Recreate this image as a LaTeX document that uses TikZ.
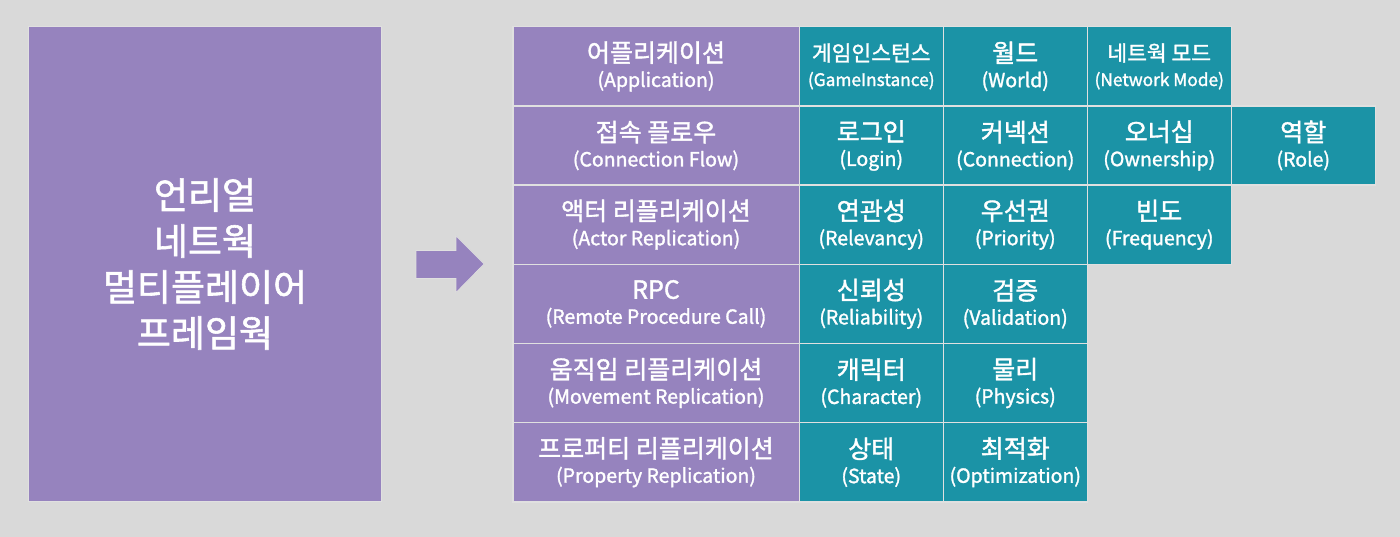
\documentclass[tikz,border=0pt]{standalone}
\usepackage{fontspec}
\setmainfont{Noto Sans CJK KR}[FakeBold=1.5]
\definecolor{bggray}{RGB}{217,217,217}
\definecolor{gapgray}{RGB}{224,224,224}
\definecolor{flowpurple}{RGB}{150,131,190}
\definecolor{partteal}{RGB}{27,147,166}
\newcommand{\celltext}[2]{{\fontsize{25}{25}\selectfont #1}\\#2}
\tikzset{
  cellbox/.style={draw=gapgray, line width=1.5pt, minimum height=79.17pt, inner sep=0pt,
    anchor=north west, text=white, align=center, font=\fontsize{19.5}{25}\selectfont},
  flowbox/.style={cellbox, fill=flowpurple, minimum width=286.5pt},
  partbox/.style={cellbox, fill=partteal, minimum width=144pt},
}
\begin{document}
\begin{tikzpicture}[x=1pt,y=-1pt]
        \fill[bggray] (0,0) rectangle (1400,537);
        \useasboundingbox (0,0) rectangle (1400,537);
        \node[draw=gapgray, line width=1pt, fill=flowpurple, minimum width=353pt, minimum height=475pt,
          anchor=north west, text=white, align=center, font=\fontsize{37}{46}\selectfont] (engine) at (28,26)
        {언리얼\\네트웍\\멀티플레이어\\프레임웍};
        \fill[flowpurple, draw=gapgray, line width=0.6pt] (416,250.5) -- (456,250.5) -- (456,236) -- (484,264)
          -- (456,292.5) -- (456,278.5) -- (416,278.5) -- cycle;
        \foreach \kor/\eng [count=\r from 0] in {어플리케이션/(Application), 접속 플로우/(Connection Flow),
          액터 리플리케이션/(Actor Replication), RPC/(Remote Procedure Call),
          움직임 리플리케이션/(Movement Replication), 프로퍼티 리플리케이션/(Property Replication)}
        \node[flowbox] (flow\r) at (512,26+79.17*\r) {\celltext{\kor}{\eng}};
        \node[partbox] (gameinstance) at (798.5,26)
        {{\fontsize{21.5}{25}\selectfont 게임인스턴스}\\{\fontsize{17.3}{25}\selectfont (GameInstance)}};
        \node[partbox] (world) at (942.5,26) {\celltext{월드}{(World)}};
        \node[partbox] (netmode) at (1086.5,26)
        {{\fontsize{21.5}{25}\selectfont 네트웍 모드}\\{\fontsize{17.3}{25}\selectfont (Network Mode)}};
        \node[partbox] (login) at (798.5,105.17) {\celltext{로그인}{(Login)}};
        \node[partbox] (connection) at (942.5,105.17) {\celltext{커넥션}{(Connection)}};
        \node[partbox] (ownership) at (1086.5,105.17) {\celltext{오너십}{(Ownership)}};
        \node[partbox] (role) at (1230.5,105.17) {\celltext{역할}{(Role)}};
        \node[partbox] (relevancy) at (798.5,184.34) {\celltext{연관성}{(Relevancy)}};
        \node[partbox] (priority) at (942.5,184.34) {\celltext{우선권}{(Priority)}};
        \node[partbox] (frequency) at (1086.5,184.34) {\celltext{빈도}{(Frequency)}};
        \node[partbox] (reliability) at (798.5,263.51) {\celltext{신뢰성}{(Reliability)}};
        \node[partbox] (validation) at (942.5,263.51) {\celltext{검증}{(Validation)}};
        \node[partbox] (character) at (798.5,342.68) {\celltext{캐릭터}{(Character)}};
        \node[partbox] (physics) at (942.5,342.68) {\celltext{물리}{(Physics)}};
        \node[partbox] (state) at (798.5,421.85) {\celltext{상태}{(State)}};
        \node[partbox] (optimization) at (942.5,421.85) {\celltext{최적화}{(Optimization)}};
\end{tikzpicture}
\end{document}
